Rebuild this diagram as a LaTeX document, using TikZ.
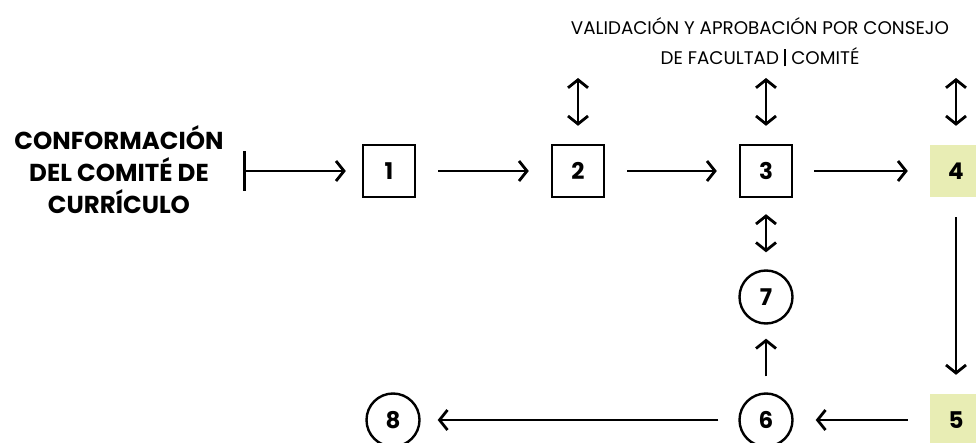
\documentclass[tikz,border=0pt]{standalone}
\usepackage{fontspec}
\setmainfont{Poppins}
\usetikzlibrary{arrows.meta}
\definecolor{paso}{HTML}{E8EDB4}
\tikzset{
  punta/.tip={Straight Barb[length=8pt,width=20pt,line width=2.8pt]},
  flecha/.style={line width=2.8pt,-punta},
  doble/.style={line width=2.8pt,punta-punta},
  caja/.style={draw,line width=2.4pt,minimum size=52pt,inner sep=0pt,font=\bfseries\fontsize{23}{23}\selectfont},
  cajav/.style={caja,draw=none,fill=paso},
  circulo/.style={circle,draw,line width=2.4pt,minimum size=53pt,inner sep=0pt,font=\bfseries\fontsize{23}{23}\selectfont},
}
\begin{document}
\begin{tikzpicture}[x=1pt,y=-1pt]
    \clip(0,0)rectangle(976,443);
    \useasboundingbox(0,0)rectangle(976,443);
    \node[align=center,font=\bfseries\fontsize{24.5}{32}\selectfont](titulo)at(119,170){CONFORMACIÓN\\DEL COMITÉ DE\\CURRÍCULO};%titulo
    \node[align=center,font=\fontsize{18.3}{30}\selectfont](consejo)at(760,42){VALIDACIÓN Y APROBACIÓN POR CONSEJO\\DE FACULTAD \rule[-2pt]{2.6pt}{17pt} COMITÉ};%consejo
    \node[caja](n1)at(389,171){1};
    \node[caja](n2)at(578,171){2};
    \node[caja](n3)at(766,171){3};
    \node[cajav](n4)at(956,171){4};
    \node[cajav](n5)at(956,420){5};
    \node[circulo](n6)at(766,420){6};
    \node[circulo](n7)at(766,297){7};
    \node[circulo](n8)at(393,420){8};
    \coordinate(inicio)at(243,171);%inicio
    \coordinate(t2)at(578,78);
    \coordinate(t3)at(766,78);
    \coordinate(t4)at(956,78);
    \draw[line width=2.8pt,{Bar[width=40pt,line width=2.8pt]}-punta,shorten >=16pt](inicio)--(n1);
    \draw[flecha,shorten <=22pt,shorten >=22pt](n1)--(n2);
    \draw[flecha,shorten <=22pt,shorten >=22pt](n2)--(n3);
    \draw[flecha,shorten <=21pt,shorten >=21pt](n3)--(n4);
    \draw[flecha,shorten <=19pt,shorten >=18pt](n4)--(n5);
    \draw[flecha,shorten <=21pt,shorten >=22pt](n5)--(n6);
    \draw[flecha,shorten <=16pt,shorten >=14pt](n6)--(n7);
    \draw[flecha,shorten <=20pt,shorten >=17pt](n6)--(n8);
    \draw[doble,shorten <=16pt,shorten >=17pt](n3)--(n7);
    \draw[doble,shorten >=18pt](t2)--(n2);
    \draw[doble,shorten >=18pt](t3)--(n3);
    \draw[doble,shorten >=18pt](t4)--(n4);
\end{tikzpicture}
\end{document}
